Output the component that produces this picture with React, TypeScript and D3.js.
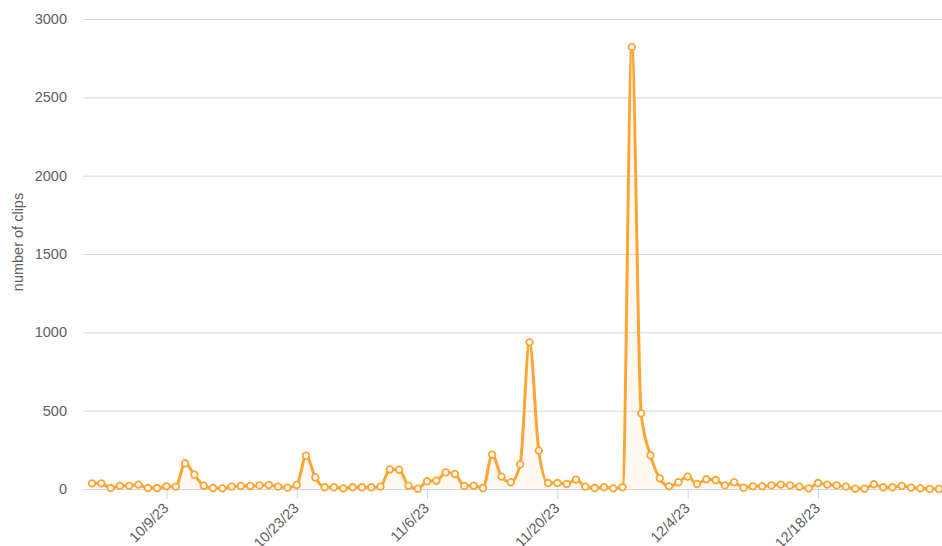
import React, { useEffect, useRef } from "react";
import * as d3 from "d3";

// daily clip counts, starting 10/1/23
const startDate = new Date(2023, 9, 1);
const clipCounts = [
  36, 36, 6, 20, 20, 28, 6, 6, 17, 15,
  164, 91, 21, 6, 4, 15, 19, 19, 23, 26,
  15, 9, 26, 213, 74, 11, 11, 4, 11, 11,
  11, 15, 125, 123, 21, 2, 49, 53, 106, 96,
  19, 21, 6, 219, 79, 43, 157, 936, 245, 38,
  38, 32, 60, 15, 6, 11, 4, 11, 2820, 483,
  215, 68, 17, 43, 79, 32, 62, 57, 23, 43,
  8, 17, 17, 23, 28, 23, 15, 4, 38, 28,
  23, 15, 2, 2, 30, 11, 11, 19, 9, 4,
  0, 0,
];
const yTicks = [0, 500, 1000, 1500, 2000, 2500, 3000];
const xTickDates = ["2023-10-09", "2023-10-23", "2023-11-06", "2023-11-20", "2023-12-04", "2023-12-18"];
const yLabel = "number of clips";

const W = 942;
const H = 546;

const App = () => {
  const svgRef = useRef<SVGSVGElement>(null);

  useEffect(() => {
    const svg = d3.select(svgRef.current);
    svg.selectAll("*").remove();

    const font = "Helvetica, Arial, 'Liberation Sans', sans-serif";
    const fontSize = 14.5;
    const plotLeft = 83;
    const plotRight = 942;
    const plotTop = 19;
    const plotBottom = 489;

    const data = clipCounts.map((v, i) => ({
      date: d3.timeDay.offset(startDate, i),
      value: v,
    }));

    const x = d3
      .scaleTime()
      .domain([data[0].date, data[data.length - 1].date])
      .range([92, 939]);
    const y = d3.scaleLinear().domain([0, 3000]).range([plotBottom, plotTop]);

    // grid
    svg
      .append("g")
      .selectAll("line")
      .data(yTicks.filter((t) => t > 0))
      .enter()
      .append("line")
      .attr("x1", plotLeft)
      .attr("x2", plotRight)
      .attr("y1", (d) => y(d) + 0.5)
      .attr("y2", (d) => y(d) + 0.5)
      .attr("stroke", "#cfdbe4")
      .attr("stroke-width", 1);

    // y labels
    svg
      .append("g")
      .selectAll("text")
      .data(yTicks)
      .enter()
      .append("text")
      .attr("x", 67)
      .attr("y", (d) => y(d))
      .attr("dy", "0.35em")
      .attr("text-anchor", "end")
      .attr("font-family", font)
      .attr("font-size", fontSize)
      .attr("fill", "#606060")
      .text((d) => d);

    svg
      .append("text")
      .attr("transform", `translate(23,${(plotTop + plotBottom) / 2 - 12}) rotate(-90)`)
      .attr("text-anchor", "middle")
      .attr("font-family", font)
      .attr("font-size", fontSize)
      .attr("fill", "#606060")
      .text(yLabel);

    // area + line
    const area = d3
      .area<{ date: Date; value: number }>()
      .x((d) => x(d.date))
      .y0(y(0))
      .y1((d) => y(d.value))
      .curve(d3.curveMonotoneX);
    const line = d3
      .line<{ date: Date; value: number }>()
      .x((d) => x(d.date))
      .y((d) => y(d.value))
      .curve(d3.curveMonotoneX);

    svg
      .append("path")
      .datum(data)
      .attr("d", area)
      .attr("fill", "#ffa534")
      .attr("fill-opacity", 0.07);

    // x axis
    svg
      .append("line")
      .attr("x1", plotLeft)
      .attr("x2", plotRight)
      .attr("y1", plotBottom + 0.5)
      .attr("y2", plotBottom + 0.5)
      .attr("stroke", "#ccd6eb");

    const parse = d3.timeParse("%Y-%m-%d");
    const fmt = (d: Date) => `${d.getMonth() + 1}/${d.getDate()}/${String(d.getFullYear()).slice(2)}`;
    const tickG = svg
      .append("g")
      .selectAll("g")
      .data(xTickDates.map((s) => parse(s) as Date))
      .enter()
      .append("g");
    tickG
      .append("line")
      .attr("x1", (d) => x(d) + 0.5)
      .attr("x2", (d) => x(d) + 0.5)
      .attr("y1", plotBottom)
      .attr("y2", plotBottom + 10)
      .attr("stroke", "#ccd6eb");
    tickG
      .append("text")
      .attr("transform", (d) => `translate(${x(d) + 3},${plotBottom + 20}) rotate(-45)`)
      .attr("text-anchor", "end")
      .attr("font-family", font)
      .attr("font-size", fontSize)
      .attr("fill", "#606060")
      .text((d) => fmt(d));

    svg
      .append("path")
      .datum(data)
      .attr("d", line)
      .attr("fill", "none")
      .attr("stroke", "#ffa534")
      .attr("stroke-width", 3)
      .attr("stroke-linejoin", "round");

    svg
      .append("g")
      .selectAll("circle")
      .data(data)
      .enter()
      .append("circle")
      .attr("cx", (d) => x(d.date))
      .attr("cy", (d) => y(d.value))
      .attr("r", 3.3)
      .attr("fill", "#fff")
      .attr("stroke", "#ffa534")
      .attr("stroke-width", 1.8);
  }, []);

  return (
    <div style={{ position: "absolute", left: 0, top: 0 }}>
      <svg ref={svgRef} width={W} height={H} style={{ display: "block" }} />
    </div>
  );
};

export default App;
